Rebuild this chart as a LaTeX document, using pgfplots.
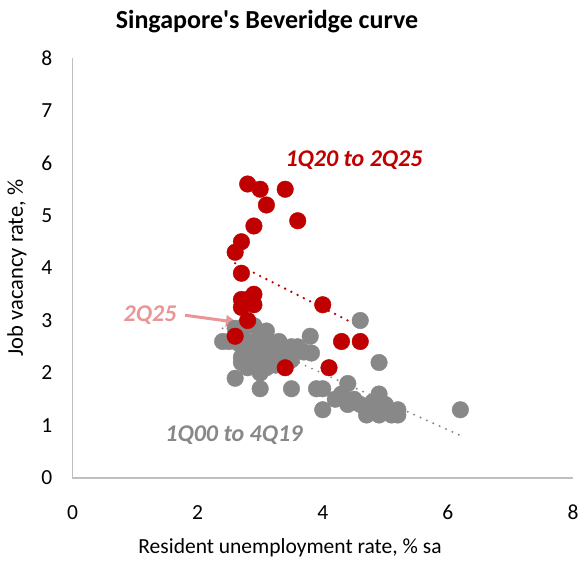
\documentclass[border=0pt]{standalone}
\usepackage{fontspec}
\setmainfont{Carlito}
\newfontfamily\titlefont{Carlito}
\usepackage{pgfplots}
\pgfplotsset{compat=1.18}
\usetikzlibrary{calc,arrows.meta}
\definecolor{myred}{RGB}{192,0,0}
\definecolor{mygray}{RGB}{136,136,136}
\definecolor{mypink}{RGB}{232,150,150}
\definecolor{axgray}{RGB}{191,191,191}
\begin{document}
\begin{tikzpicture}
\begin{axis}[name=ax, at={(0,0)}, anchor=south west, scale only axis,
  width=500.5pt, height=420pt,
  xmin=0, xmax=8, ymin=0, ymax=8,
  xtick={0,2,4,6,8}, ytick={0,1,...,8},
  axis x line*=bottom, axis y line*=left,
  axis line style={axgray, line width=1.2pt, -},
  major tick length=0pt,
  tick label style={font=\fontsize{21.5}{25}\selectfont},
  /pgf/number format/assume math mode=true,
  xticklabel style={anchor=north, inner sep=0pt, yshift=-27pt},
  yticklabel style={anchor=east, inner sep=0pt, xshift=-20pt},
  clip=false]
% 1Q00 to 4Q19
\addplot[mygray, only marks, mark=*, mark size=8.3pt, mark options={draw=mygray, fill=mygray}] coordinates {
(2.4,2.6) (2.5,2.6) (2.65,2.57) (2.6,2.85) (2.7,2.75) (2.75,2.9) (2.8,2.6) (2.9,2.5)
(2.7,2.3) (2.7,2.2) (2.8,2.4) (2.97,2.25) (3.0,2.4) (3.1,2.8) (3.05,2.6) (3.13,2.44)
(3.2,2.5) (3.29,2.44) (3.39,2.31) (3.5,2.25) (3.25,2.15) (3.2,2.3) (3.5,2.5) (3.6,2.5)
(3.7,2.4) (3.8,2.7) (3.82,2.38) (3.1,2.1) (3.0,2.0) (2.6,1.9) (3.0,1.7) (3.5,1.7)
(3.9,1.7) (4.0,1.7) (4.0,1.3) (4.2,1.5) (4.4,1.8) (4.4,1.4) (4.5,1.5) (4.6,1.4)
(4.7,1.2) (4.8,1.3) (4.9,1.6) (4.9,1.2) (5.0,1.4) (5.1,1.2) (5.2,1.3) (5.2,1.2)
(4.6,3.0) (4.9,2.2) (6.2,1.3) (4.3,1.6) (2.9,2.9) (2.8,2.1) (3.3,2.6) (3.4,2.4)
(3.0,2.7) (4.8,1.45) (5.0,1.3)
};
% 1Q20 to 2Q25
\addplot[myred, only marks, mark=*, mark size=8.3pt, mark options={draw=myred, fill=myred}] coordinates {
(2.8,5.6) (3.0,5.5) (3.4,5.5) (3.1,5.2) (3.6,4.9) (2.9,4.8) (2.7,4.5) (2.6,4.3)
(2.7,3.9) (4.0,3.3) (2.6,2.7) (3.4,2.1) (4.1,2.1) (4.3,2.6) (4.6,2.6)
(2.7,3.4) (2.9,3.5) (2.9,3.3) (2.7,3.25) (2.8,3.35) (2.8,3.4) (2.8,3.0)
};
% trend lines
\addplot[myred, line width=2.6pt, line cap=round, dash pattern=on 0pt off 7pt] coordinates {(2.6,4.09) (4.6,2.88)};
\addplot[mygray, line width=2.2pt, line cap=round, dash pattern=on 0pt off 7pt] coordinates {(2.4,2.85) (6.2,0.81)};
% annotations
\node[font=\fontsize{24}{28}\selectfont\bfseries\itshape, text=myred] at (axis cs:4.5,6.06) {1Q20 to 2Q25};
\node[font=\fontsize{24}{28}\selectfont\bfseries\itshape, text=mypink] at (axis cs:1.24,3.10) {2Q25};
\node[font=\fontsize{24}{28}\selectfont\bfseries\itshape, text=mygray] at (axis cs:2.58,0.82) {1Q00 to 4Q19};
\draw[mypink, line width=3pt, -{Latex[length=13pt,width=13pt]}] (axis cs:1.80,3.10) -- (axis cs:2.66,2.96);
\end{axis}
\node[font=\titlefont\fontsize{26}{30}\selectfont\bfseries] at ($(ax.south west)+(194.5pt,456pt)$) {Singapore's Beveridge curve};
\node[font=\fontsize{21.5}{25}\selectfont] at ($(ax.south west)+(217.5pt,-70pt)$) {Resident unemployment rate, \% sa};
\node[font=\fontsize{22.5}{26}\selectfont, rotate=90] at ($(ax.south west)+(-55.5pt,210pt)$) {Job vacancy rate, \%};
\useasboundingbox ($(ax.south west)+(-72.5pt,-84pt)$) rectangle ($(ax.south west)+(506.5pt,478pt)$);
\end{tikzpicture}
\end{document}
